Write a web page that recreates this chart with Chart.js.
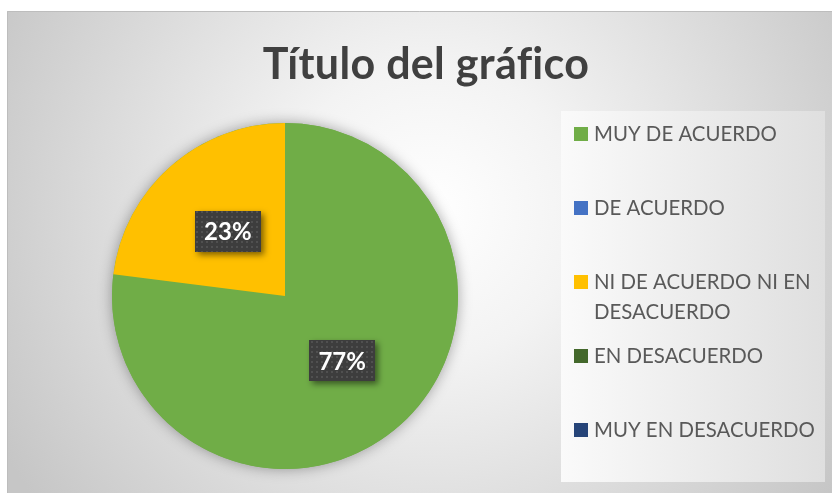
<!DOCTYPE html>
<html><head><meta charset="utf-8">
<script src="https://cdn.jsdelivr.net/npm/chart.js@4.4.1/dist/chart.umd.min.js"></script>
<style>html,body{margin:0;padding:0;background:#fff;} #wrap{width:832px;height:493px;position:relative;overflow:hidden;}</style>
</head><body><div id="wrap"><canvas id="c" width="832" height="493"></canvas></div>
<script>
const TITLE = 'Título del gráfico';
const categories = ['MUY DE ACUERDO', 'DE ACUERDO', ['NI DE ACUERDO NI EN', 'DESACUERDO'], 'EN DESACUERDO', 'MUY EN DESACUERDO'];
const values = [77, 0, 23, 0, 0];
const colors = ['#70AD47', '#4472C4', '#FFC000', '#43682B', '#264478'];

function makePattern(ctx) {
  const p = document.createElement('canvas');
  p.width = 5; p.height = 5;
  const pc = p.getContext('2d');
  pc.fillStyle = '#3d3d3d'; pc.fillRect(0, 0, 5, 5);
  pc.fillStyle = '#505050'; pc.fillRect(1, 1, 2, 2);
  return ctx.createPattern(p, 'repeat');
}

const decor = {
  id: 'decor',
  beforeDraw(chart) {
    const ctx = chart.ctx, W = chart.width, H = chart.height;
    ctx.save();
    ctx.fillStyle = '#ffffff';
    ctx.fillRect(0, 0, W, H);
    const g = ctx.createRadialGradient(430, 210, 0, 430, 210, 490);
    g.addColorStop(0, '#ffffff');
    g.addColorStop(0.3, '#f3f3f3');
    g.addColorStop(1, '#c6c6c6');
    ctx.fillStyle = g;
    ctx.fillRect(7, 11, W - 7, H - 11);
    ctx.strokeStyle = '#bdbdbd';
    ctx.lineWidth = 1;
    ctx.beginPath();
    ctx.moveTo(7.5, H); ctx.lineTo(7.5, 11.5); ctx.lineTo(W, 11.5);
    ctx.stroke();
    const lg = ctx.createLinearGradient(561, 0, 825, 0);
    lg.addColorStop(0, '#fafafa');
    lg.addColorStop(1, '#dfdfdf');
    ctx.fillStyle = lg;
    ctx.fillRect(561, 111, 264, 371);
    ctx.restore();
  },
  beforeDatasetsDraw(chart) {
    const arc = chart.getDatasetMeta(0).data[0];
    const {x, y, outerRadius} = arc.getProps(['x', 'y', 'outerRadius'], true);
    const ctx = chart.ctx;
    ctx.save();
    ctx.shadowColor = 'rgba(0,0,0,0.35)';
    ctx.shadowBlur = 14;
    ctx.fillStyle = colors[0];
    ctx.beginPath();
    ctx.arc(x, y, outerRadius, 0, Math.PI * 2);
    ctx.fill();
    ctx.restore();
  },
  afterDatasetsDraw(chart) {
    const ctx = chart.ctx;
    const total = values.reduce((a, b) => a + b, 0);
    const pat = makePattern(ctx);
    chart.getDatasetMeta(0).data.forEach((arc, i) => {
      if (!values[i]) return;
      const p = arc.getProps(['x', 'y', 'startAngle', 'endAngle', 'outerRadius'], true);
      const mid = (p.startAngle + p.endAngle) / 2;
      const r = p.outerRadius * 0.5;
      const cx = p.x + Math.cos(mid) * r;
      const cy = p.y + Math.sin(mid) * r;
      const txt = Math.round(values[i] / total * 100) + '%';
      ctx.save();
      ctx.font = 'bold 24px Lato';
      const tw = ctx.measureText(txt).width;
      const bw = Math.round(tw + 18), bh = 41;
      const bx = Math.round(cx - bw / 2), by = Math.round(cy - bh / 2);
      ctx.shadowColor = 'rgba(0,0,0,0.5)';
      ctx.shadowBlur = 6;
      ctx.shadowOffsetX = 3;
      ctx.shadowOffsetY = 3;
      ctx.fillStyle = pat;
      ctx.fillRect(bx, by, bw, bh);
      ctx.shadowColor = 'transparent';
      ctx.fillStyle = '#ffffff';
      ctx.textAlign = 'center';
      ctx.textBaseline = 'middle';
      ctx.fillText(txt, cx, cy + 1);
      ctx.restore();
    });
  },
  afterDraw(chart) {
    const ctx = chart.ctx;
    ctx.save();
    ctx.fillStyle = '#404040';
    ctx.font = 'bold 43px Lato';
    ctx.letterSpacing = '0.3px';
    ctx.textAlign = 'center';
    ctx.textBaseline = 'alphabetic';
    ctx.fillText(TITLE, 426, 79);
    ctx.letterSpacing = '0px';
    ctx.font = '20.4px Lato';
    ctx.textAlign = 'left';
    categories.forEach((c, i) => {
      const base = 141 + i * 74;
      ctx.fillStyle = colors[i];
      ctx.fillRect(574, base - 14, 14, 14);
      ctx.fillStyle = '#595959';
      const lines = Array.isArray(c) ? c : [c];
      lines.forEach((ln, j) => ctx.fillText(ln, 594, base + j * 30));
    });
    ctx.restore();
  }
};

new Chart(document.getElementById('c'), {
  type: 'pie',
  data: {
    labels: categories,
    datasets: [{ data: values, backgroundColor: colors, borderWidth: 0 }]
  },
  options: {
    responsive: false,
    devicePixelRatio: 1,
    animation: false,
    layout: { padding: { left: 112, right: 374, top: 123, bottom: 24 } },
    plugins: { legend: { display: false }, tooltip: { enabled: false }, title: { display: false } }
  },
  plugins: [decor]
});
</script>
</body></html>
